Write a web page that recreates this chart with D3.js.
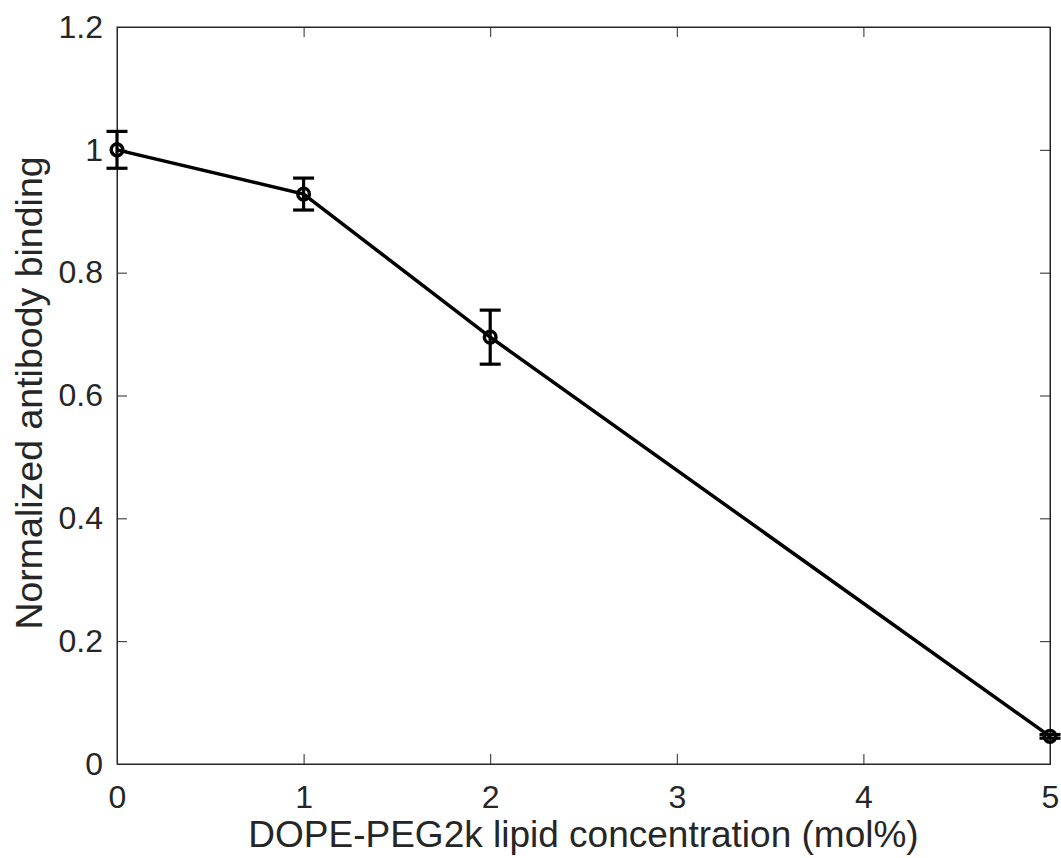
<!DOCTYPE html>
<html>
<head>
<meta charset="utf-8">
<script src="https://cdn.jsdelivr.net/npm/d3@7"></script>
<style>
  body { margin: 0; background: #fff; }
  text { font-family: "Liberation Sans", Arial, sans-serif; fill: #262626; }
</style>
</head>
<body>
<div id="chart"></div>
<script>
// data
const conc = [0, 1, 2, 5];
const binding = [1.0, 0.928, 0.695, 0.045];
const errBar = [0.03, 0.026, 0.044, 0.003];
const xTicks = [0, 1, 2, 3, 4, 5];
const yTicks = [0, 0.2, 0.4, 0.6, 0.8, 1, 1.2];

const width = 1061, height = 858;
const margin = { left: 117, right: 11, top: 27, bottom: 94 };
const iw = width - margin.left - margin.right;
const ih = height - margin.top - margin.bottom;

const svg = d3.select('#chart').append('svg')
    .attr('width', width)
    .attr('height', height);

const g = svg.append('g').attr('transform', `translate(${margin.left},${margin.top})`);

const x = d3.scaleLinear().domain([0, 5]).range([0, iw]);
const y = d3.scaleLinear().domain([0, 1.2]).range([ih, 0]);

const axisColor = '#262626';
const tickLen = 10;

// box
g.append('rect')
    .attr('width', iw).attr('height', ih)
    .attr('fill', 'none')
    .attr('stroke', axisColor)
    .attr('stroke-width', 1);

// axes with inward ticks
g.append('g').attr('transform', `translate(0,${ih})`)
    .call(d3.axisBottom(x).tickValues(xTicks).tickSize(-tickLen).tickPadding(21).tickFormat(d3.format('d')));
g.append('g')
    .call(d3.axisLeft(y).tickValues(yTicks).tickSize(-tickLen).tickPadding(14).tickFormat(d => String(+d.toFixed(1))));
// mirrored ticks on top and right
g.append('g')
    .call(d3.axisTop(x).tickValues(xTicks).tickSize(-tickLen).tickFormat(''));
g.append('g').attr('transform', `translate(${iw},0)`)
    .call(d3.axisRight(y).tickValues(yTicks).tickSize(-tickLen).tickFormat(''));

g.selectAll('.domain').attr('stroke', axisColor);
g.selectAll('.tick line').attr('stroke', axisColor);
g.selectAll('.tick text')
    .attr('font-size', 32)
    .style('font-family', '"Liberation Sans", Arial, sans-serif')
    .attr('fill', axisColor);

// line
const line = d3.line().x((d, i) => x(conc[i])).y(d => y(d));
g.append('path')
    .datum(binding)
    .attr('d', line)
    .attr('fill', 'none')
    .attr('stroke', '#000')
    .attr('stroke-width', 3.5);

// error bars
const capHalf = 10.5;
const eb = g.append('g');
binding.forEach((v, i) => {
  const cx = x(conc[i]);
  const y0 = y(v - errBar[i]), y1 = y(v + errBar[i]);
  eb.append('line').attr('x1', cx).attr('x2', cx).attr('y1', y0).attr('y2', y1)
    .attr('stroke', '#000').attr('stroke-width', 3.2);
  [y0, y1].forEach(yy => {
    eb.append('line').attr('x1', cx - capHalf).attr('x2', cx + capHalf).attr('y1', yy).attr('y2', yy)
      .attr('stroke', '#000').attr('stroke-width', 3.2);
  });
});

// markers
g.selectAll('circle.pt')
    .data(binding)
    .enter().append('circle')
    .attr('class', 'pt')
    .attr('cx', (d, i) => x(conc[i]))
    .attr('cy', d => y(d))
    .attr('r', 5.8)
    .attr('fill', 'none')
    .attr('stroke', '#000')
    .attr('stroke-width', 3.5);

// axis labels
svg.append('text')
    .attr('x', margin.left + iw / 2)
    .attr('y', 847)
    .attr('text-anchor', 'middle')
    .attr('font-size', 37)
    .text('DOPE-PEG2k lipid concentration (mol%)');

svg.append('text')
    .attr('transform', `translate(42,393) rotate(-90)`)
    .attr('text-anchor', 'middle')
    .attr('font-size', 37.5)
    .text('Normalized antibody binding');
</script>
</body>
</html>
